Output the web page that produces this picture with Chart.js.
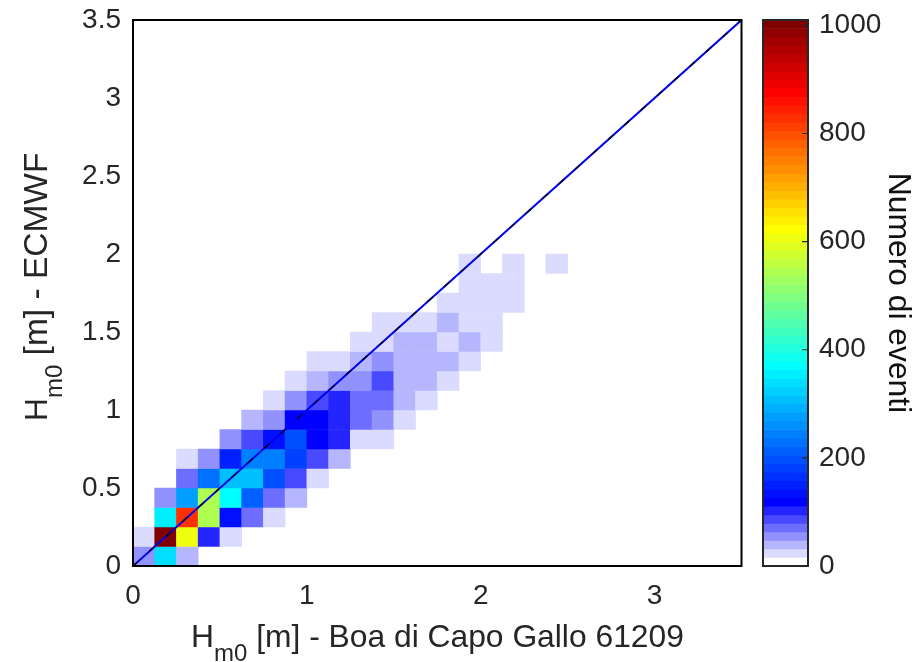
<!DOCTYPE html>
<html>
<head>
<meta charset="utf-8">
<script src="https://cdn.jsdelivr.net/npm/chart.js@4"></script>
<style>
html,body{margin:0;padding:0;background:#fff;width:923px;height:662px;overflow:hidden}
#wrap{position:relative;width:923px;height:662px}
#main{position:absolute;left:0;top:0}
#bar{position:absolute;left:750px;top:0}
</style>
</head>
<body>
<div id="wrap">
<canvas id="main" width="923" height="662"></canvas>
<canvas id="bar" width="173" height="662"></canvas>
</div>
<script>
// Bin edges step (m) and event counts per bin; each row is [firstColumn, counts...]
const binSize = 0.125;
const row00 = [0, 55, 340, 39];
const row01 = [0, 24, 1000, 607, 102, 24];
const row02 = [1, 355, 830, 545, 135, 71, 24];
const row03 = [1, 55, 270, 545, 371, 210, 71, 39];
const row04 = [2, 71, 228, 308, 308, 195, 87, 24];
const row05 = [2, 24, 55, 150, 245, 245, 180, 87, 39];
const row06 = [4, 55, 87, 130, 195, 118, 102, 24, 24];
const row07 = [5, 39, 55, 118, 118, 102, 71, 55, 24];
const row08 = [6, 24, 55, 87, 102, 71, 71, 39, 24];
const row09 = [7, 24, 39, 55, 55, 87, 39, 39, 24];
const row10 = [8, 24, 24, 39, 55, 39, 39, 39, 24];
const row11 = [10, 24, 24, 39, 39, 24, 39, 24];
const row12 = [11, 24, 24, 24, 39, 24, 24];
const row13 = [14, 24, 24, 24, 24];
const row14 = [15, 24, 24, 24];
const row15a = [15, 24];
const row15b = [17, 24];
const row15c = [19, 24];
const rowIndex = [0,1,2,3,4,5,6,7,8,9,10,11,12,13,14,15,15,15];
const rows = [row00,row01,row02,row03,row04,row05,row06,row07,row08,row09,row10,row11,row12,row13,row14,row15a,row15b,row15c];

const axisMax = 3.5;
const axisTicks = [0,0.5,1,1.5,2,2.5,3,3.5];
const xAxisTicks = [0,1,2,3];
const diagonal = [0, 3.5];
const colorMax = 1010;
const colorTicks = [0,200,400,600,800,1000];
const nLevels = 64;

const textColor = '#262626';
const fontFamily = '"Liberation Sans", Arial, sans-serif';
const fontSize = 28;
const titleSize = 31.8;
const subSize = 24;

function levelColor(i){
  const stops = [[0,255,255,255],[7,0,0,255],[23,0,255,255],[39,255,255,0],[55,255,0,0],[63,128,0,0]];
  for(let s=0;s<stops.length-1;s++){
    const a=stops[s],b=stops[s+1];
    if(i<=b[0]){
      const t=(i-a[0])/(b[0]-a[0]);
      return 'rgb('+[1,2,3].map(k=>Math.round(a[k]+(b[k]-a[k])*t)).join(',')+')';
    }
  }
  return 'rgb(128,0,0)';
}
function colorFor(v){
  return levelColor(Math.max(0,Math.min(nLevels-1,Math.floor(v/colorMax*nLevels))));
}

const cells=[];
rows.forEach((r,ri)=>{
  const c0=r[0], rowN=rowIndex[ri];
  r.slice(1).forEach((v,k)=>{
    cells.push({x:(c0+k+0.5)*binSize,y:[rowN*binSize,(rowN+1)*binSize],count:v});
  });
});

function frame(lw,color,tickLen){
  return {
    id:'frame',
    afterDatasetsDraw(chart){
      const {ctx,chartArea:a,scales}=chart;
      ctx.save();
      ctx.strokeStyle=color;ctx.lineWidth=lw;
      ctx.strokeRect(a.left,a.top,a.right-a.left,a.bottom-a.top);
      if(tickLen>0){
        ctx.lineWidth=1.2;
        ctx.beginPath();
        scales.y.ticks.forEach(t=>{const p=scales.y.getPixelForValue(t.value);
          ctx.moveTo(a.right,p);ctx.lineTo(a.right-tickLen,p);});
        ctx.stroke();
      }
      ctx.restore();
    }
  };
}

// Axis titles with subscripts, drawn as text pieces
function subTitle(ctx,x,y,rot,pieces){
  ctx.save();
  ctx.translate(x,y);ctx.rotate(rot);
  ctx.fillStyle=textColor;ctx.textBaseline='alphabetic';ctx.textAlign='left';
  let cx=0;
  pieces.forEach(p=>{
    ctx.font=p.size+'px '+fontFamily;
    ctx.fillText(p.text,cx,p.dy);
    cx+=ctx.measureText(p.text).width;
  });
  ctx.restore();
}
const titles={
  id:'titles',
  afterDraw(chart){
    const ctx=chart.ctx;
    subTitle(ctx,191,647,0,[{text:'H',size:titleSize,dy:0},{text:'m0',size:subSize,dy:14},{text:' [m] - Boa di Capo Gallo 61209',size:titleSize,dy:0}]);
    subTitle(ctx,47,421,-Math.PI/2,[{text:'H',size:titleSize,dy:0},{text:'m0',size:subSize,dy:15},{text:' [m] - ECMWF',size:33.5,dy:0}]);
  }
};
function fixBox(s,prop,val){
  s[prop]=val;
  s.paddingTop=0;s.paddingBottom=0;s.paddingLeft=0;s.paddingRight=0;
}

new Chart(document.getElementById('main'),{
  data:{datasets:[
    {type:'line',data:diagonal.map(v=>({x:v,y:v})),borderColor:'#000',borderWidth:1.2,borderDash:[7,15],pointRadius:0,order:1},
    {type:'line',data:diagonal.map(v=>({x:v,y:v})),borderColor:'#0000ee',borderWidth:2,pointRadius:0,order:2},
    {type:'bar',data:cells,order:3,barPercentage:1,categoryPercentage:1,grouped:false,borderWidth:0,
      backgroundColor:c=>colorFor(c.raw?c.raw.count:0)}
  ]},
  options:{
    responsive:false,animation:false,
    layout:{padding:{top:20,right:181.5,left:0,bottom:0}},
    plugins:{legend:{display:false},tooltip:{enabled:false},title:{display:false}},
    scales:{
      x:{type:'linear',offset:false,min:0,max:axisMax,grid:{display:false},border:{display:false},
        afterBuildTicks(s){s.ticks=xAxisTicks.map(v=>({value:v}));},
        afterFit(s){fixBox(s,'height',96);},
        ticks:{color:textColor,font:{family:fontFamily,size:fontSize},padding:5,maxRotation:0,autoSkip:false,callback:v=>String(v)}},
      y:{type:'linear',min:0,max:axisMax,grid:{display:false},border:{display:false},
        afterBuildTicks(s){s.ticks=axisTicks.map(v=>({value:v}));},
        afterFit(s){fixBox(s,'width',133);},
        ticks:{color:textColor,font:{family:fontFamily,size:fontSize},padding:4,autoSkip:false,callback:v=>String(v)}}
    }
  },
  plugins:[frame(2,'#000',0),titles]
});

const levels=Array.from({length:nLevels},(_,i)=>i);
new Chart(document.getElementById('bar'),{
  data:{datasets:[
    {type:'bar',data:levels.map(i=>({x:0.5,y:[i*colorMax/nLevels,(i+1)*colorMax/nLevels],level:i})),
      barPercentage:1,categoryPercentage:1,barThickness:45,grouped:false,borderWidth:0,
      backgroundColor:c=>levelColor(c.raw?c.raw.level:0)}
  ]},
  options:{
    responsive:false,animation:false,
    layout:{padding:{top:20,left:13,right:0,bottom:0}},
    plugins:{legend:{display:false},tooltip:{enabled:false}},
    scales:{
      x:{type:'linear',display:false,offset:false,min:0,max:1,afterFit(s){fixBox(s,'height',96);}},
      y:{type:'linear',position:'right',min:0,max:colorMax,grid:{display:false},border:{display:false},
        afterBuildTicks(s){s.ticks=colorTicks.map(v=>({value:v}));},
        afterFit(s){fixBox(s,'width',115);},
        ticks:{color:textColor,font:{family:fontFamily,size:fontSize},padding:3,autoSkip:false,callback:v=>String(v)},
        title:{display:true,text:'Numero di eventi',color:'#111',font:{family:fontFamily,size:titleSize},padding:{top:6,bottom:0}}}
    }
  },
  plugins:[frame(2,'#262626',6)]
});
</script>
</body>
</html>
